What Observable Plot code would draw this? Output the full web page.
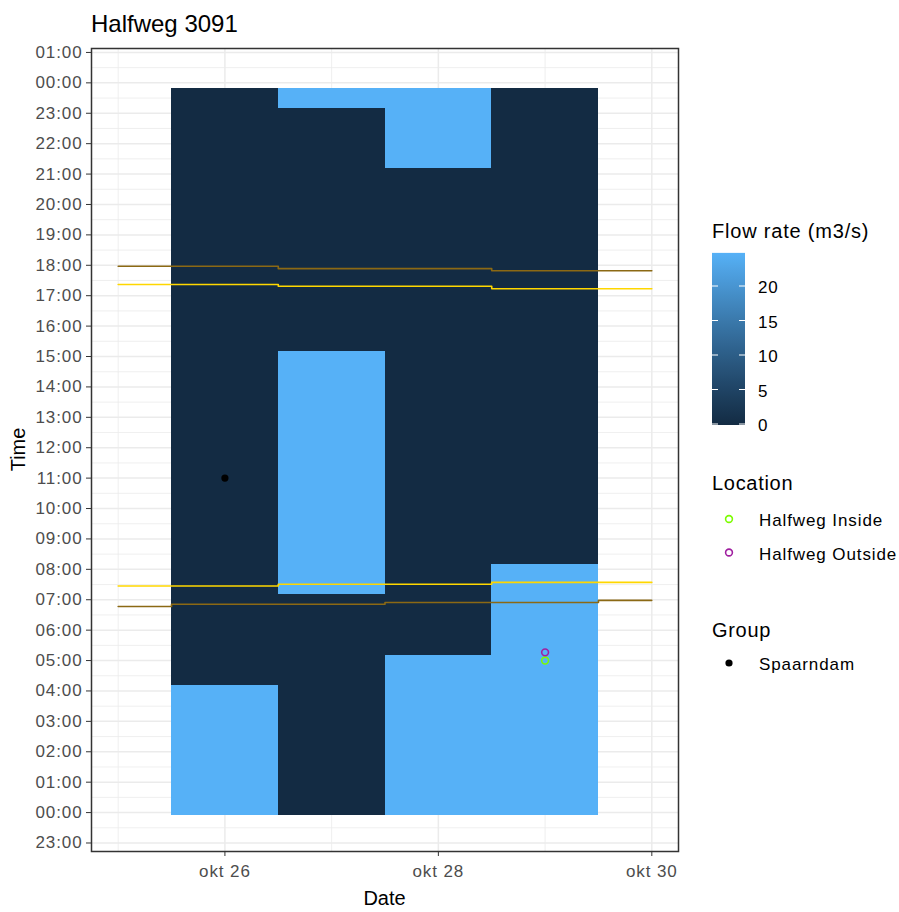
<!DOCTYPE html>
<html><head><meta charset="utf-8">
<script src="https://cdn.jsdelivr.net/npm/d3@7"></script>
<script src="https://cdn.jsdelivr.net/npm/@observablehq/plot@0.6"></script>
<style>
body{margin:0;background:#fff;}
#chart{position:relative;width:899px;height:912px;}
</style></head><body><div id="chart"></div>
<script>
// ---------- data ----------
const titleText = "Halfweg 3091";
const xTickDates = ["2020-10-26", "2020-10-28", "2020-10-30"];
const xTickLabels = ["okt 26", "okt 28", "okt 30"];
const xMinorDates = ["2020-10-25", "2020-10-27", "2020-10-29"];
const yTickHours = [-1,0,1,2,3,4,5,6,7,8,9,10,11,12,13,14,15,16,17,18,19,20,21,22,23,24,25];

// flow-rate tiles (one column per day, hour spans)
const tileDate  = ["2020-10-26","2020-10-26","2020-10-27","2020-10-27","2020-10-27","2020-10-27","2020-10-28","2020-10-28","2020-10-28","2020-10-29","2020-10-29"];
const tileStart = [-0.08, 4.167, -0.08, 7.167, 15.167, 23.15, -0.08, 5.167, 21.167, -0.08, 8.167];
const tileEnd   = [4.167, 23.83, 7.167, 15.167, 23.15, 23.83, 5.167, 21.167, 23.83, 8.167, 23.83];
const tileFlow  = [24.8, 0, 0, 24.8, 0, 24.8, 24.8, 0, 24.8, 24.8, 0];

// sun lines (step values)
const sunStepX   = ["2020-10-25T00:00","2020-10-26T12:00","2020-10-28T12:00","2020-10-30T00:00"];
const sunsetHour = [17.37, 17.31, 17.23];
const duskHour   = [17.97, 17.89, 17.82];
const sunriseHour= [7.45, 7.51, 7.57];
const dawnStepX  = ["2020-10-25T00:00","2020-10-25T12:00","2020-10-27T12:00","2020-10-29T12:00","2020-10-30T00:00"];
const dawnHour   = [6.78, 6.85, 6.91, 6.98];

// points
const locationNames = ["Halfweg Inside", "Halfweg Outside"];
const locationDates = ["2020-10-29", "2020-10-29"];
const locationHours = [5.0, 5.27];
const groupNames = ["Spaarndam"];
const groupDates = ["2020-10-26"];
const groupHours = [11.0];

const colorTicks = [0, 5, 10, 15, 20];
const flowMax = 24.8;

// ---------- styles ----------
const FONT = "'Liberation Sans', Arial, Helvetica, sans-serif";
const locationColors = ["#7CFC00", "#A020A0"];
const gold = "#FFD700", brown = "#8B6914";

const parse = s => new Date(s.length === 10 ? s + "T00:00:00Z" : s + ":00Z");
const HOUR = 3600e3;
const tiles = tileDate.map((d, i) => ({
  x1: new Date(+parse(d) - 12 * HOUR), x2: new Date(+parse(d) + 12 * HOUR),
  y1: tileStart[i], y2: tileEnd[i], flow: tileFlow[i]
}));
const stepData = (xs, hs) => xs.map((x, i) => ({x: parse(x), y: hs[Math.min(i, hs.length - 1)]}));
const locPts = locationNames.map((n, i) => ({name: n, x: parse(locationDates[i]), y: locationHours[i]}));
const grpPts = groupNames.map((n, i) => ({name: n, x: parse(groupDates[i]), y: groupHours[i]}));
const xTicks = xTickDates.map(parse);
const xMinor = xMinorDates.map(parse);
const yMinor = yTickHours.slice(0, -1).map(h => h + 0.5);
const fmtHour = h => String(((h % 24) + 24) % 24).padStart(2, "0") + ":00";
const fmtDate = d => xTickLabels[xTicks.findIndex(t => +t === +d)];

const plot = Plot.plot({
  width: 899, height: 912,
  marginLeft: 91, marginRight: 221, marginTop: 48, marginBottom: 61,
  style: {fontFamily: FONT, background: "#fff", overflow: "visible"},
  x: {type: "utc", domain: [parse("2020-10-24T18:00"), parse("2020-10-30T06:00")]},
  y: {domain: [-1.28, 25.13]},
  color: {type: "linear", domain: [0, flowMax], range: ["#132B43", "#56B1F7"], interpolate: "lab"},
  marks: [
    Plot.ruleX(xMinor, {stroke: "#EBEBEB", strokeWidth: 0.8}),
    Plot.ruleY(yMinor, {stroke: "#EBEBEB", strokeWidth: 0.8}),
    Plot.ruleX(xTicks, {stroke: "#EBEBEB", strokeWidth: 1.5}),
    Plot.ruleY(yTickHours, {stroke: "#EBEBEB", strokeWidth: 1.5}),
    Plot.rect(tiles, {x1: "x1", x2: "x2", y1: "y1", y2: "y2", fill: "flow", shapeRendering: "crispEdges"}),
    Plot.line(stepData(sunStepX, duskHour), {x: "x", y: "y", stroke: brown, strokeWidth: 1.6, curve: "step-after"}),
    Plot.line(stepData(sunStepX, sunsetHour), {x: "x", y: "y", stroke: gold, strokeWidth: 1.6, curve: "step-after"}),
    Plot.line(stepData(sunStepX, sunriseHour), {x: "x", y: "y", stroke: gold, strokeWidth: 1.6, curve: "step-after"}),
    Plot.line(stepData(dawnStepX, dawnHour), {x: "x", y: "y", stroke: brown, strokeWidth: 1.6, curve: "step-after"}),
    Plot.dot(locPts.filter(d => d.name === locationNames[0]), {x: "x", y: "y", r: 3.4, stroke: locationColors[0], strokeWidth: 1.6, fill: "none"}),
    Plot.dot(locPts.filter(d => d.name === locationNames[1]), {x: "x", y: "y", r: 3.4, stroke: locationColors[1], strokeWidth: 1.6, fill: "none"}),
    Plot.dot(grpPts, {x: "x", y: "y", r: 3.6, fill: "#000", stroke: "none"}),
    Plot.frame({stroke: "#333333", strokeWidth: 1.5}),
    Plot.axisX({ticks: xTicks, tickFormat: fmtDate, tickSize: 5, tickPadding: 8, fontSize: 17, label: null, stroke: "#333333"}),
    Plot.axisY({ticks: yTickHours, tickFormat: fmtHour, tickSize: 5, tickPadding: 4, fontSize: 17, label: null, stroke: "#333333"})
  ]
});

document.getElementById("chart").appendChild(plot);
const svg = d3.select(plot);
svg.selectAll('g[aria-label="x-axis tick label"], g[aria-label="y-axis tick label"]')
  .attr("fill", "#4D4D4D").style("letter-spacing", "0.9px");

const addText = (txt, x, y, size, opts = {}) => svg.append("text")
  .attr("x", x).attr("y", y).attr("font-family", FONT).attr("font-size", size)
  .attr("fill", opts.fill || "#000").attr("text-anchor", opts.anchor || "start")
  .attr("transform", opts.transform || null)
  .style("letter-spacing", opts.ls || "0px").text(txt);

// title and axis titles
addText(titleText, 91, 32, 24);
addText("Date", 384.5, 905, 20, {anchor: "middle"});
svg.append("text").attr("transform", "translate(25,449.5) rotate(-90)")
  .attr("font-family", FONT).attr("font-size", 20).attr("text-anchor", "middle").text("Time");

// colour bar legend
const cs = plot.scale("color");
const grad = svg.append("defs").append("linearGradient").attr("id", "flowgrad")
  .attr("x1", 0).attr("y1", 1).attr("x2", 0).attr("y2", 0);
d3.range(0, 21).forEach(k => grad.append("stop").attr("offset", k / 20).attr("stop-color", cs.apply(flowMax * k / 20)));
const barX = 712, barW = 33, barBottom = 424, pxPerUnit = 6.9;
addText("Flow rate (m3/s)", 712, 238, 20, {ls: "0.8px"});
svg.append("rect").attr("x", barX).attr("y", barBottom - flowMax * pxPerUnit).attr("width", barW)
  .attr("height", flowMax * pxPerUnit + 1).attr("fill", "url(#flowgrad)");
colorTicks.forEach(v => {
  const y = barBottom - v * pxPerUnit;
  svg.append("line").attr("x1", barX).attr("x2", barX + 6).attr("y1", y).attr("y2", y).attr("stroke", "#fff").attr("stroke-width", 1);
  svg.append("line").attr("x1", barX + barW - 6).attr("x2", barX + barW).attr("y1", y).attr("y2", y).attr("stroke", "#fff").attr("stroke-width", 1);
  addText(String(v), 758, y + 7, 17, {ls: "0.9px"});
});

// Location legend
addText("Location", 712, 490, 20, {ls: "0.7px"});
locationNames.forEach((n, i) => {
  const cy = 519 + i * 33.5;
  svg.append("circle").attr("cx", 729).attr("cy", cy).attr("r", 3.4).attr("fill", "none")
    .attr("stroke", locationColors[i]).attr("stroke-width", 1.6);
  addText(n, 759, cy + 7, 17, {ls: "0.9px"});
});

// Group legend
addText("Group", 712, 637, 20, {ls: "0.7px"});
groupNames.forEach((n, i) => {
  const cy = 663 + i * 33.5;
  svg.append("circle").attr("cx", 729).attr("cy", cy).attr("r", 3.6).attr("fill", "#000");
  addText(n, 759, cy + 7, 17, {ls: "0.9px"});
});
</script></body></html>
